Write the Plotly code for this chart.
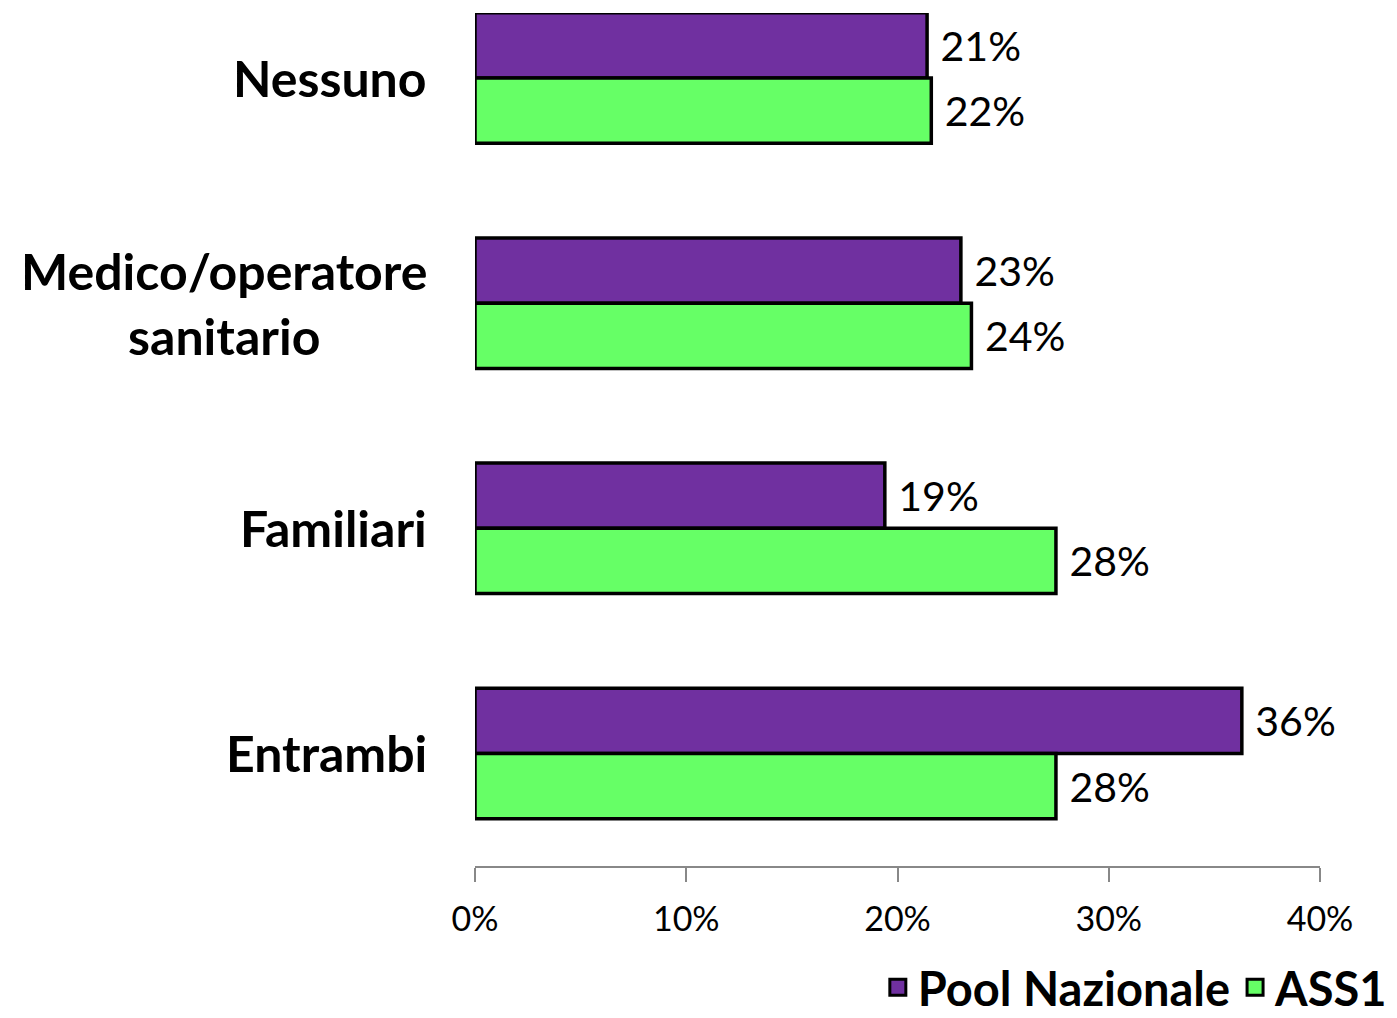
import plotly.graph_objects as go

categories = ["Nessuno", "Medico/operatore<br>sanitario", "Familiari", "Entrambi"]
pool_values = [21.4, 23.0, 19.4, 36.3]
ass1_values = [21.6, 23.5, 27.5, 27.5]
pool_labels = ["21%", "23%", "19%", "36%"]
ass1_labels = ["22%", "24%", "28%", "28%"]
x_tickvals = [0, 10, 20, 30, 40]
x_ticktext = ["0%", "10%", "20%", "30%", "40%"]

PURPLE = "#7030A0"
GREEN = "#66FF66"
FONT = "Lato"
NB = "\u00a0"

fig = go.Figure()
fig.add_trace(go.Bar(
    y=categories, x=pool_values, orientation="h", name="Pool Nazionale",
    marker=dict(color=PURPLE, line=dict(color="black", width=3.5)),
    text=[NB + t for t in pool_labels], textposition="outside",
    textfont=dict(family=FONT, size=41, color="black"),
    cliponaxis=False, showlegend=False,
))
fig.add_trace(go.Bar(
    y=categories, x=ass1_values, orientation="h", name="ASS1",
    marker=dict(color=GREEN, line=dict(color="black", width=3.5)),
    text=[NB + t for t in ass1_labels], textposition="outside",
    textfont=dict(family=FONT, size=41, color="black"),
    cliponaxis=False, showlegend=False,
))
# legend entries
fig.add_trace(go.Scatter(x=[None], y=[None], mode="markers", name="<b>Pool Nazionale</b>",
                         marker=dict(symbol="square", size=30, color=PURPLE,
                                     line=dict(color="black", width=3))))
fig.add_trace(go.Scatter(x=[None], y=[None], mode="markers", name="<b>ASS1</b>",
                         marker=dict(symbol="square", size=30, color=GREEN,
                                     line=dict(color="black", width=3))))

for c in categories:
    fig.add_annotation(x=-0.055, xref="paper", y=c, yref="y", text="<b>%s</b>" % c,
                       showarrow=False, xanchor="right", yanchor="middle", align="center",
                       font=dict(family=FONT, size=50, color="black"))

fig.update_layout(
    width=1389, height=1010,
    margin=dict(l=467, r=77, t=5, b=152, autoexpand=False),
    plot_bgcolor="white", paper_bgcolor="white",
    barmode="group", bargap=0.42, bargroupgap=0,
    uniformtext=dict(mode=False),
    xaxis=dict(range=[0, 40], tickvals=x_tickvals, ticktext=x_ticktext,
               showgrid=False, zeroline=False, showline=True, linecolor="#888888",
               linewidth=2, ticks="outside", tickcolor="#888888", ticklen=14, tickwidth=2,
               ticklabelstandoff=8, automargin=False,
               tickfont=dict(family=FONT, size=34, color="black")),
    yaxis=dict(categoryorder="array", categoryarray=categories,
               range=[3.5, -0.289], showticklabels=False, showgrid=False,
               zeroline=False, showline=False, ticks="", automargin=False),
    legend=dict(orientation="h", xref="container", x=0.997, xanchor="right",
                yref="container", y=0.03, yanchor="middle",
                font=dict(family=FONT, size=47, color="black"),
                itemsizing="trace", traceorder="normal"),
)
fig.write_html("out.html")
